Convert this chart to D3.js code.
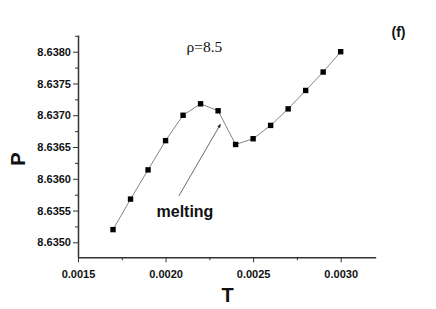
<!DOCTYPE html>
<html>
<head>
<meta charset="utf-8">
<script src="https://cdn.jsdelivr.net/npm/d3@7"></script>
<style>
  body { margin: 0; background: #fff; }
  text { font-family: Arial, "Liberation Sans", sans-serif; }
</style>
</head>
<body>
<svg id="chart" width="436" height="309"></svg>
<script>
// data
const temps = [0.0017, 0.0018, 0.0019, 0.0020, 0.0021, 0.0022, 0.0023, 0.0024, 0.0025, 0.0026, 0.0027, 0.0028, 0.0029, 0.0030];
const pressures = [8.63520, 8.63568, 8.63614, 8.63660, 8.63700, 8.63718, 8.63707, 8.63654, 8.63663, 8.63684, 8.63710, 8.63739, 8.63768, 8.63800];
const xTicks = [0.0015, 0.0020, 0.0025, 0.0030];
const yTicks = [8.6350, 8.6355, 8.6360, 8.6365, 8.6370, 8.6375, 8.6380];
const arrowFrom = [0.002076, 8.63573];
const arrowTo = [0.002314, 8.63686];

const svg = d3.select("#chart");
const plotLeft = 78, plotRight = 375.7, plotTop = 35, plotBottom = 257.3;

const x = d3.scaleLinear().domain([0.0015, 0.0032]).range([plotLeft, plotRight]);
const y = d3.scaleLinear().domain([8.634764, 8.638263]).range([plotBottom, plotTop]);

const axisColor = "#333";

// minor ticks between the labelled ones
const xMinor = d3.range(0.00175, 0.0032, 0.0005);
const yMinor = d3.range(8.63475, 8.6383, 0.0005).filter(v => v > y.domain()[0] && v < y.domain()[1]);

const xAxis = svg.append("g")
  .attr("transform", `translate(0,${plotBottom})`)
  .call(d3.axisBottom(x).tickValues(xTicks).tickFormat(d3.format(".4f")).tickSize(5).tickSizeOuter(0));
svg.append("g")
  .attr("transform", `translate(0,${plotBottom})`)
  .call(d3.axisBottom(x).tickValues(xMinor).tickFormat("").tickSize(3).tickSizeOuter(0))
  .select(".domain").remove();

const yAxis = svg.append("g")
  .attr("transform", `translate(${plotLeft},0)`)
  .call(d3.axisLeft(y).tickValues(yTicks).tickFormat(d3.format(".4f")).tickSize(5).tickSizeOuter(0));
svg.append("g")
  .attr("transform", `translate(${plotLeft},0)`)
  .call(d3.axisLeft(y).tickValues(yMinor).tickFormat("").tickSize(3).tickSizeOuter(0))
  .select(".domain").remove();

svg.selectAll(".domain").attr("stroke", axisColor).attr("stroke-width", 1.5);
svg.selectAll(".tick line").attr("stroke", axisColor).attr("stroke-width", 1);
svg.selectAll(".tick text")
  .attr("fill", "#111")
  .style("font-size", "11px")
  .style("font-weight", "bold");
xAxis.selectAll(".tick text").attr("dy", "1.15em");
yAxis.selectAll(".tick text").attr("x", -7);

// series line
const pts = temps.map((t, i) => [t, pressures[i]]);
svg.append("path")
  .datum(pts)
  .attr("fill", "none")
  .attr("stroke", "#777")
  .attr("stroke-width", 0.9)
  .attr("d", d3.line().x(d => x(d[0])).y(d => y(d[1])));

svg.append("g")
  .selectAll("rect")
  .data(pts)
  .enter()
  .append("rect")
    .attr("x", d => x(d[0]) - 2.7)
    .attr("y", d => y(d[1]) - 2.7)
    .attr("width", 5.4)
    .attr("height", 5.4)
    .attr("fill", "#000");

// arrow for the melting note
svg.append("defs").append("marker")
  .attr("id", "head")
  .attr("viewBox", "0 0 10 10")
  .attr("refX", 9).attr("refY", 5)
  .attr("markerWidth", 5).attr("markerHeight", 5)
  .attr("orient", "auto")
  .append("path")
    .attr("d", "M0,1L10,5L0,9Z")
    .attr("fill", "#222");

svg.append("line")
  .attr("x1", x(arrowFrom[0])).attr("y1", y(arrowFrom[1]))
  .attr("x2", x(arrowTo[0])).attr("y2", y(arrowTo[1]))
  .attr("stroke", "#444")
  .attr("stroke-width", 0.8)
  .attr("marker-end", "url(#head)");

svg.append("text")
  .attr("x", 156.5).attr("y", 216.5)
  .style("font-size", "16px").style("font-weight", "bold")
  .attr("fill", "#111")
  .text("melting");

svg.append("text")
  .attr("x", 186.5).attr("y", 51.5)
  .style("font-family", "'Liberation Serif', 'Times New Roman', serif")
  .style("font-size", "15.5px")
  .attr("fill", "#111")
  .text("ρ=8.5");

svg.append("text")
  .attr("x", 391.5).attr("y", 37)
  .style("font-size", "14px").style("font-weight", "bold")
  .attr("fill", "#111")
  .text("(f)");

// axis titles
svg.append("text")
  .attr("x", 227.7).attr("y", 301.5)
  .attr("text-anchor", "middle")
  .style("font-size", "20px").style("font-weight", "bold")
  .attr("fill", "#111")
  .text("T");

svg.append("text")
  .attr("transform", "translate(24.5,159) rotate(-90)")
  .attr("text-anchor", "middle")
  .style("font-size", "20px").style("font-weight", "bold")
  .attr("fill", "#111")
  .text("P");
</script>
</body>
</html>
